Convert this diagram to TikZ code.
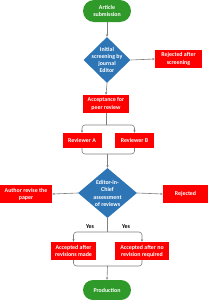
\documentclass[tikz,border=0pt]{standalone}
\usepackage{fontspec}
\setmainfont{Carlito}
\usetikzlibrary{shapes.geometric,arrows.meta}
\definecolor{boxred}{HTML}{FF0000}
\definecolor{dblue}{HTML}{2E75B6}
\definecolor{sgreen}{HTML}{2F9A2A}
\definecolor{lgray}{HTML}{7F7F7F}
\begin{document}
\begin{tikzpicture}[x=1pt,y=-1pt,
  txt/.style={font=\fontsize{5.9}{7.2}\selectfont\bfseries, align=center, text=white},
  redbox/.style={txt, rectangle, fill=boxred, inner sep=0pt},
  stadium/.style={txt, rectangle, fill=sgreen, inner sep=0pt, minimum width=48pt},
  dia/.style={diamond, fill=dblue, inner sep=0pt},
  conn/.style={draw=lgray, line width=0.6pt, rounded corners=3pt},
  arr/.style={conn, -{Stealth[length=2.6pt,width=2.2pt]}},
  yes/.style={font=\fontsize{5.9}{7}\selectfont\bfseries, text=black, inner sep=0pt}
]
\useasboundingbox (0,0) rectangle (210,300);
\node[stadium, minimum height=22pt, rounded corners=11pt] (sub) at (107,11) {Article\\submission};
\node[dia, minimum width=47pt, minimum height=46pt] (d1) at (107,60) {};
\node[txt] (d1t) at (107,60) {Initial\\screening by\\journal\\Editor};
\node[redbox, minimum width=47pt, minimum height=18pt] (rej1) at (178.5,59) {Rejected after\\screening};
\node[redbox, minimum width=46pt, minimum height=18pt] (acc) at (106,104) {Acceptance for\\peer review};
\node[redbox, minimum width=39pt, minimum height=15pt] (revA) at (82,140.5) {Reviewer A};
\node[redbox, minimum width=39pt, minimum height=15pt] (revB) at (134.5,140.5) {Reviewer B};
\node[dia, minimum width=59pt, minimum height=50pt] (d2) at (107.5,193) {};
\node[txt] (d2t) at (107.5,193.5) {Editor-in-\\Chief\\assessment\\of reviews};
\node[redbox, minimum width=52pt, minimum height=18pt] (auth) at (26,194) {Author revise the\\paper};
\node[redbox, minimum width=45pt, minimum height=18pt] (rej2) at (185.5,194) {Rejected};
\node[redbox, minimum width=45pt, minimum height=18pt] (a1) at (73.5,251) {Accepted after\\revisions made};
\node[redbox, minimum width=54pt, minimum height=18pt] (a2) at (142,251) {Accepted after no\\revision required};
\node[stadium, minimum height=20pt, rounded corners=10pt] (prod) at (107,290) {Production};
\node[yes] (y1) at (90,227) {Yes};
\node[yes] (y2) at (126,227) {Yes};
\coordinate (s1) at (106,125);
\coordinate (m1) at (107.5,154);
\coordinate (s2) at (107.5,232);
\coordinate (m2) at (107.5,266);
% connectors
\draw[arr] (sub) -- (d1.north);
\draw[arr] (d1.east) -- (rej1.west);
\draw[arr] (d1.south) -- (acc.north);
\draw[conn] (acc.south) -- (s1);
\draw[arr] (s1) -| (revA.north);
\draw[arr] (s1) -| (revB.north);
\draw[conn] (revA.south) |- (m1) -| (revB.south);
\draw[arr] (m1) -- (d2.north);
\draw[arr] (d2.west) -- (auth.east);
\draw[arr] (d2.east) -- (rej2.west);
\draw[conn] (d2.south) -- (s2);
\draw[arr] (s2) -| (a1.north);
\draw[arr] (s2) -| (a2.north);
\draw[conn] (a1.south) |- (m2) -| (a2.south);
\draw[arr] (m2) -- (prod.north);
\end{tikzpicture}
\end{document}
